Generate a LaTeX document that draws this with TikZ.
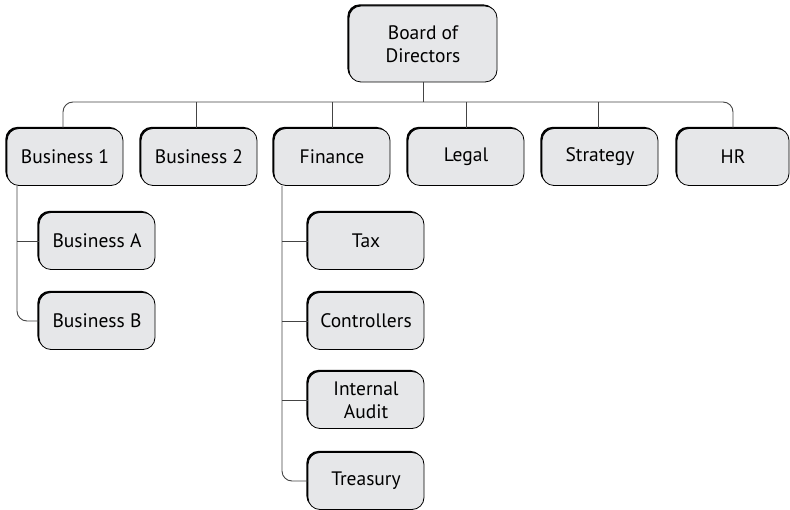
\documentclass[tikz,border=0pt]{standalone}
\usepackage{fontspec}
\setmainfont{PT Sans}
\usetikzlibrary{shadows}
\definecolor{boxgray}{HTML}{E6E7E9}
\definecolor{linegray}{HTML}{444444}
\tikzset{
  orgbox/.style={draw=black, line width=0.8pt, fill=boxgray, rounded corners=12pt,
    minimum width=116pt, minimum height=57pt, inner sep=2pt, align=center,
    font=\fontsize{19.5}{23}\selectfont,
    drop shadow={shadow xshift=-1.6pt, shadow yshift=1.6pt, opacity=1, fill=black}},
  conn/.style={draw=linegray, line width=0.9pt},
}
\begin{document}
\begin{tikzpicture}[x=1pt,y=-1pt]
\useasboundingbox (0,0) rectangle (790,510);
\node[orgbox, minimum width=148pt, minimum height=76pt] (board) at (423,44) {Board of\\Directors};
\node[orgbox] (b1) at (65,157) {Business 1};
\node[orgbox] (b2) at (199,157) {Business 2};
\node[orgbox] (fin) at (332,157) {Finance};
\node[orgbox] (legal) at (466,157) {Legal};
\node[orgbox] (strat) at (600,157) {Strategy};
\node[orgbox, minimum width=112pt] (hr) at (733,157) {HR};
\node[orgbox] (ba) at (97,241) {Business A};
\node[orgbox] (bb) at (97,321) {Business B};
\node[orgbox] (tax) at (366,241) {Tax};
\node[orgbox] (ctrl) at (366,321) {Controllers};
\node[orgbox] (audit) at (366,400) {Internal\\Audit};
\node[orgbox] (treas) at (366,481) {Treasury};
\coordinate (bus) at (0,102);
\coordinate (bx) at (17,0);
\coordinate (fx) at (282,0);
\draw[conn] (board.south) -- (board.south |- bus);
\draw[conn, rounded corners=10pt] (b1.north -| 63,0) |- (hr.north |- bus) -- (hr.north);
\draw[conn] (b2.north -| 196,0) -- (bus -| 196,0);
\draw[conn] (fin.north) -- (fin.north |- bus);
\draw[conn] (legal.north) -- (legal.north |- bus);
\draw[conn] (strat.north -| 598,0) -- (bus -| 598,0);
\draw[conn, rounded corners=10pt] (b1.south -| bx) |- (bb.west);
\draw[conn] (ba.west -| bx) -- (ba.west);
\draw[conn, rounded corners=10pt] (fin.south -| fx) |- (treas.west);
\draw[conn] (tax.west -| fx) -- (tax.west);
\draw[conn] (ctrl.west -| fx) -- (ctrl.west);
\draw[conn] (audit.west -| fx) -- (audit.west);
\end{tikzpicture}
\end{document}
